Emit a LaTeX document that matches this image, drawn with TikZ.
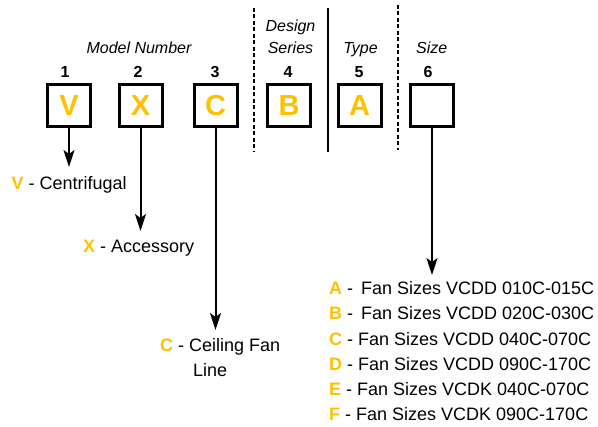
\documentclass[tikz,border=0pt]{standalone}
\usepackage{fontspec}
\setmainfont{Liberation Sans}
\usetikzlibrary{arrows.meta}
\definecolor{codeorange}{HTML}{FFC000}
\tikzset{
  codebox/.style={draw=black, line width=3pt, minimum width=43pt, minimum height=42pt, inner sep=0pt,
    text=codeorange, font=\fontsize{29}{29}\selectfont\bfseries},
  posnum/.style={anchor=base, inner sep=0pt, font=\fontsize{16}{16}\selectfont\bfseries},
  heading/.style={anchor=base, inner sep=0pt, font=\fontsize{16}{16}\selectfont\itshape},
  desc/.style={anchor=base west, inner sep=0pt, align=left},
  pointer/.style={line width=2pt, -{Stealth[length=17pt, width=11pt, inset=4pt]}},
  sepdash/.style={line width=2pt, dash pattern=on 4pt off 2.5pt},
  sepline/.style={line width=1.5pt},
}
\newcommand{\ol}[1]{{\color{codeorange}\bfseries #1}}
\begin{document}
\begin{tikzpicture}[x=1pt, y=-1pt]
\useasboundingbox (0,0) rectangle (598,427);
% separators
\draw[sepdash] (254,8) -- (254,152);
\draw[sepline] (328,8) -- (328,152);
\draw[sepdash] (397.7,5) -- (397.7,150);
% headings
\node[heading] (hmodel) at (139,53.7) {Model Number};
\node[heading] (hdesign) at (290.5,31.7) {Design};
\node[heading] (hseries) at (290.5,53.7) {Series};
\node[heading] (htype) at (360.5,53.7) {Type};
\node[heading] (hsize) at (431.7,53.7) {Size};
% numbers
\node[posnum] (n1) at (65,77.7) {1};
\node[posnum] (n2) at (138,77.7) {2};
\node[posnum] (n3) at (215,77.7) {3};
\node[posnum] (n4) at (288,77.7) {4};
\node[posnum] (n5) at (359,77.7) {5};
\node[posnum] (n6) at (428,77.7) {6};
% boxes
\node[codebox] (b1) at (69,105.5) {V};
\node[codebox] (b2) at (140.5,105.5) {X};
\node[codebox] (b3) at (215.5,105.5) {C};
\node[codebox] (b4) at (289,105.5) {B};
\node[codebox] (b5) at (359.5,105.5) {A};
\node[codebox] (b6) at (432,105.5) {};
% arrow tips
\coordinate (t1) at (69,167);
\coordinate (t2) at (140.5,231);
\coordinate (t3) at (215.5,330);
\coordinate (t6) at (432,275);
\draw[pointer] (b1.south) -- (t1);
\draw[pointer] (b2.south) -- (t2);
\draw[pointer] (b3.south) -- (t3);
\draw[pointer] (b6.south) -- (t6);
% descriptions
\node[desc, font=\fontsize{18}{25}\selectfont] (dv) at (11.5,189.5) {\ol{V} - Centrifugal};
\node[desc, font=\fontsize{18}{25}\selectfont] (dx) at (83,252.5) {\ol{X} - Accessory};
\node[desc, font=\fontsize{18}{25}\selectfont] (dc) at (160,376.5) {\ol{C} - Ceiling Fan\\\hspace{33pt}Line};
\node[desc, font=\fontsize{18}{25.3}\selectfont] (ds) at (329,421) {\ol{A} -\, Fan Sizes VCDD 010C-015C\\
\ol{B} -\, Fan Sizes VCDD 020C-030C\\
\ol{C} - Fan Sizes VCDD 040C-070C\\
\ol{D} - Fan Sizes VCDD 090C-170C\\
\ol{E} - Fan Sizes VCDK 040C-070C\\
\ol{F} - Fan Sizes VCDK 090C-170C};
\end{tikzpicture}
\end{document}
